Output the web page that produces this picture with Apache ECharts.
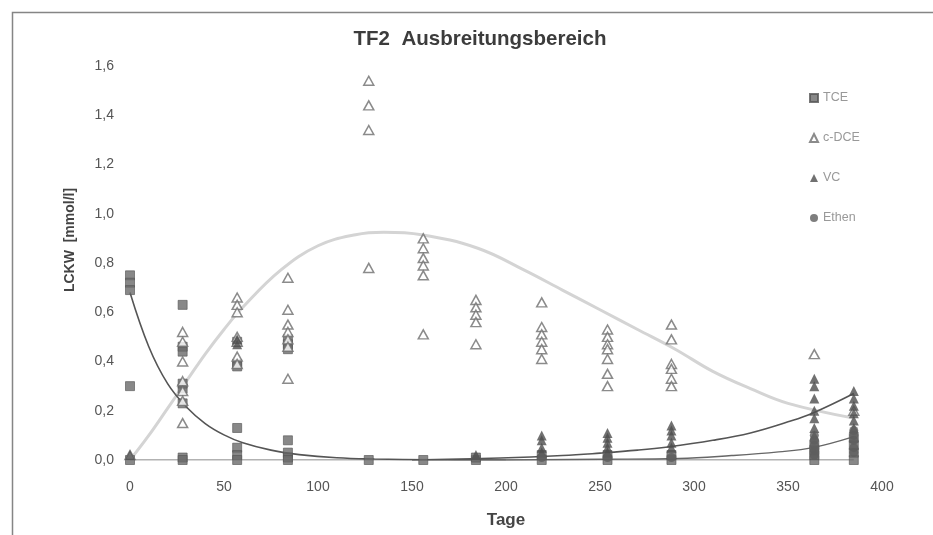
<!DOCTYPE html>
<html>
<head>
<meta charset="utf-8">
<script src="https://cdn.jsdelivr.net/npm/echarts@6/dist/echarts.min.js"></script>
<style>html,body{margin:0;padding:0;background:#fff}#c{width:933px;height:535px}</style>
</head>
<body>
<div id="c"></div>
<script>
// Measured values (day, mmol/l)
const tce = [[0,0.75],[0,0.72],[0,0.69],[0,0.30],[0,0.0],
  [28,0.63],[28,0.46],[28,0.44],[28,0.31],[28,0.29],[28,0.23],[28,0.01],[28,0.0],
  [57,0.48],[57,0.39],[57,0.38],[57,0.13],[57,0.05],[57,0.02],[57,0.0],
  [84,0.49],[84,0.47],[84,0.45],[84,0.08],[84,0.03],[84,0.01],[84,0.0],
  [127,0.0],[156,0.0],[184,0.0],[184,0.01],[219,0.0],[219,0.02],[254,0.0],[254,0.02],[288,0.0],[288,0.02],
  [364,0.0],[364,0.02],[364,0.04],[364,0.06],[385,0.0],[385,0.03],[385,0.06],[385,0.09]];
const cdce = [[0,0.02],
  [28,0.52],[28,0.48],[28,0.40],[28,0.32],[28,0.28],[28,0.24],[28,0.15],
  [57,0.66],[57,0.63],[57,0.60],[57,0.50],[57,0.48],[57,0.42],[57,0.39],
  [84,0.74],[84,0.61],[84,0.55],[84,0.52],[84,0.49],[84,0.46],[84,0.33],
  [127,1.54],[127,1.44],[127,1.34],[127,0.78],
  [156,0.90],[156,0.86],[156,0.82],[156,0.79],[156,0.75],[156,0.51],
  [184,0.65],[184,0.62],[184,0.59],[184,0.56],[184,0.47],
  [219,0.64],[219,0.54],[219,0.51],[219,0.48],[219,0.45],[219,0.41],
  [254,0.53],[254,0.50],[254,0.47],[254,0.45],[254,0.41],[254,0.35],[254,0.30],
  [288,0.55],[288,0.49],[288,0.39],[288,0.37],[288,0.33],[288,0.30],
  [364,0.43],[385,0.20]];
const vc = [[0,0.02],[57,0.49],[57,0.47],[184,0.02],
  [219,0.10],[219,0.08],[219,0.05],[219,0.03],
  [254,0.11],[254,0.09],[254,0.07],[254,0.05],[254,0.03],
  [288,0.14],[288,0.12],[288,0.10],[288,0.07],[288,0.05],
  [364,0.33],[364,0.30],[364,0.25],[364,0.20],[364,0.17],[364,0.13],[364,0.10],
  [385,0.28],[385,0.25],[385,0.22],[385,0.19],[385,0.16],[385,0.13]];
const ethen = [[219,0.01],[254,0.01],[288,0.01],
  [364,0.10],[364,0.08],[364,0.06],[364,0.04],[364,0.02],
  [385,0.12],[385,0.10],[385,0.08],[385,0.05],[385,0.03]];
// Trend curves
const tceTrend = [[0,0.68],[10,0.46],[20,0.31],[30,0.215],[40,0.148],[50,0.102],[60,0.07],[75,0.04],[90,0.022],[110,0.009],[130,0.004],[160,0.001],[200,0.0]];
const cdceTrend = [[0,0.0],[10,0.1],[20,0.21],[30,0.32],[40,0.43],[50,0.53],[60,0.62],[80,0.77],[100,0.87],[120,0.915],[135,0.925],[155,0.915],[185,0.86],[210,0.77],[230,0.69],[250,0.61],[270,0.53],[290,0.45],[310,0.36],[330,0.29],[350,0.23],[385,0.17]];
const vcTrend = [[150,0.0],[197,0.008],[230,0.018],[250,0.028],[270,0.04],[286,0.053],[310,0.08],[330,0.11],[350,0.155],[363,0.19],[385,0.27]];
const ethenTrend = [[200,0.0],[250,0.003],[292,0.006],[320,0.018],[345,0.033],[363,0.05],[385,0.095]];
const baseLine = [[0,0],[385,0]];
const xTicks = [0,50,100,150,200,250,300,350,400];

const chart = echarts.init(document.getElementById('c'));
const font = "'Liberation Sans Narrow','Liberation Sans',Arial,sans-serif";
const lineS = (data, color, w) => ({type:'line', data, smooth:0.4, showSymbol:false, symbol:'none', silent:true, z:1,
  lineStyle:{color, width:w}});
chart.setOption({
  backgroundColor:'#fff',
  animation:false,
  title:{text:'TF2  Ausbreitungsbereich', left:475, top:24, textAlign:'center',
    textStyle:{fontFamily:font, fontWeight:'bold', fontSize:20.5, color:'#3c3c3c'}},
  graphic:[
    {type:'rect', shape:{x:12.5,y:12.5,width:960,height:560}, style:{fill:'none', stroke:'#858585', lineWidth:1.5}, silent:true},
    {type:'text', x:70, y:240, rotation:Math.PI/2, silent:true,
      style:{text:'LCKW  [mmol/l]', fontFamily:font, fontSize:14, fontWeight:'bold', fill:'#444',
        align:'center', verticalAlign:'middle'}}
  ],
  legend:{orient:'vertical', left:804, top:86.5, itemGap:27, itemWidth:8, itemHeight:8,
    textStyle:{fontFamily:font, fontSize:12.5, color:'#999'},
    data:['TCE','c-DCE','VC','Ethen']},
  grid:{left:130, right:51, top:66, bottom:75},
  xAxis:{type:'value', min:0, max:400, interval:50,
    axisLine:{show:false}, axisTick:{show:false}, splitLine:{show:false},
    axisLabel:{fontFamily:font, fontSize:14, color:'#555', margin:20,
      customValues:xTicks},
    name:'Tage', nameLocation:'middle', nameGap:52,
    nameTextStyle:{fontFamily:font, fontSize:17, fontWeight:'bold', color:'#444'}},
  yAxis:{type:'value', min:0, max:1.6, interval:0.2,
    axisLine:{show:false}, axisTick:{show:false}, splitLine:{show:false},
    axisLabel:{fontFamily:font, fontSize:14, color:'#555', margin:16,
      formatter:v=>v.toFixed(1).replace('.',',')}},
  series:[
    lineS(baseLine,'#666',1.2),
    lineS(cdceTrend,'#d4d4d4',3),
    lineS(tceTrend,'#555',1.6),
    lineS(vcTrend,'#555',1.6),
    lineS(ethenTrend,'#666',1.4),
    {name:'TCE', type:'scatter', data:tce, symbol:'rect', symbolSize:9, z:3,
      itemStyle:{color:'#6a6a6a', borderColor:'#555', borderWidth:0.8}},
    {name:'c-DCE', type:'scatter', data:cdce, symbol:'triangle', symbolSize:[10,9], z:4,
      itemStyle:{color:'#fff', borderColor:'#6e6e6e', borderWidth:1.5}},
    {name:'VC', type:'scatter', data:vc, symbol:'triangle', symbolSize:[10,10], z:5,
      itemStyle:{color:'#4e4e4e'}},
    {name:'Ethen', type:'scatter', data:ethen, symbol:'circle', symbolSize:9, z:6,
      itemStyle:{color:'#5e5e5e'}}
  ]
});
</script>
</body>
</html>
